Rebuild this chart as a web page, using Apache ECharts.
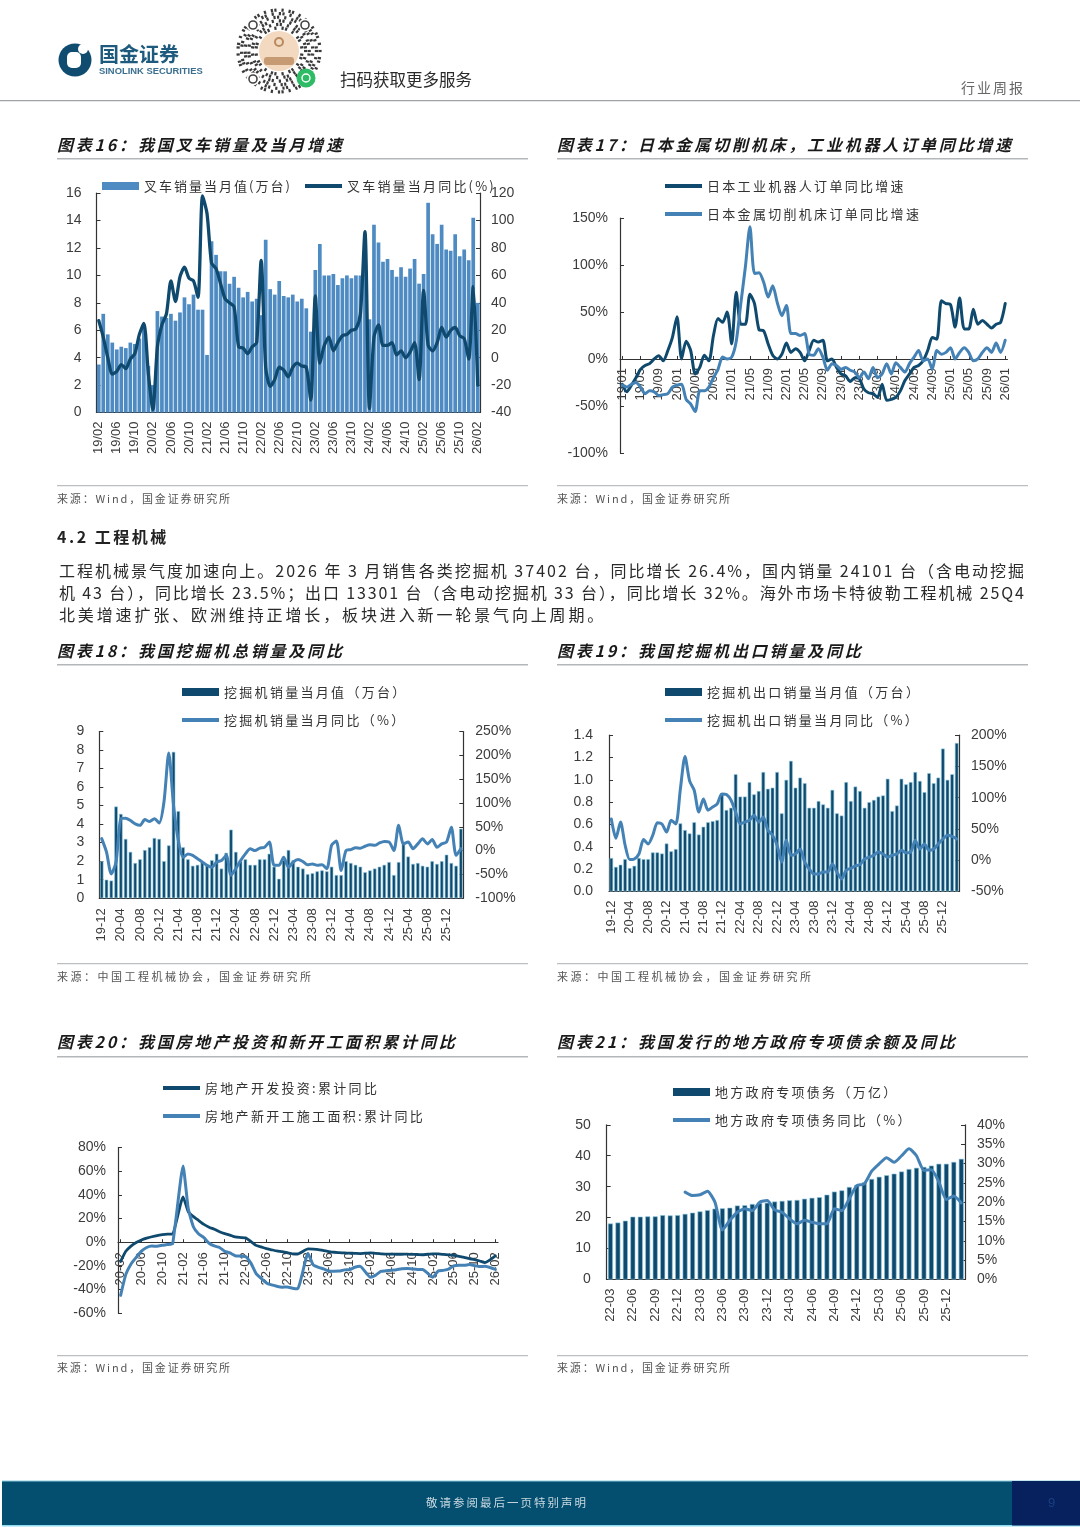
<!DOCTYPE html>
<html><head><meta charset="utf-8">
<style>html,body{margin:0;padding:0;background:#fff}#c{width:1080px;height:1527px}</style>
<script src="https://cdn.jsdelivr.net/npm/echarts@6/dist/echarts.min.js"></script>
</head><body><div id="c"></div>
<script>
// ---------- labels ----------
function months(y, m, n, sep){const o=[];for(let i=0;i<n;i++){const t=(y*12+m-1+i);const yy=Math.floor(t/12),mm=t%12+1;o.push(String(yy).padStart(2,'0')+sep+String(mm).padStart(2,'0'));}return o;}
const cat16 = months(19,2,85,'/');
const cat17 = months(19,1,85,'/');
const cat18 = months(19,12,76,'-');
const cat19 = months(19,12,76,'-');
const cat20 = months(20,2,73,'-');
const cat21 = months(22,3,48,'-');

// ---------- chart 16 ----------
const forkliftSales = [3.5,7.2,5.7,5.1,4.6,4.8,4.7,5.1,5.0,5.4,6.4,3.4,2.0,7.4,7.0,6.9,7.2,6.7,7.3,8.4,7.9,8.6,7.5,7.5,4.2,12.5,11.5,10.3,10.3,9.4,9.9,9.1,8.4,8.8,8.1,8.3,7.1,12.6,9.0,8.6,9.6,8.5,8.4,8.6,8.1,8.3,7.6,5.9,10.4,12.3,10.0,10.0,10.1,9.3,9.8,10.0,9.8,10.0,10.0,13.0,6.8,13.7,12.4,11.0,11.2,10.4,9.9,10.6,9.9,10.5,11.2,9.4,10.1,15.3,13.0,12.3,13.7,11.9,11.8,13.0,11.4,11.9,11.1,14.2,8.0];
const forkliftYoy = [27,15,0,-12,-10,-5,-8,-1,3,17,25,-12,-38,8,24,32,56,41,59,66,58,56,44,118,105,69,65,54,43,40,37,8,7,3,8,11,71,-7,-21,-16,-7,-9,-14,-7,-4,-6,-7,-31,45,-4,9,15,5,11,16,17,20,21,32,92,-37,15,24,9,9,11,2,5,0,4,11,-16,49,9,5,11,22,15,20,22,16,14,-1,52,-20];
// ---------- chart 17 ----------
const robotOrders = [-27,-35,-28,-20,-11,-7,-5,0,3.5,-2,9,23,45,0,19,9,-16,-9,4,-2,25,43,39,50,16,71,37,37,69,59,31,30,16,4,0,5,17,7,11,7,-2,9,20,18,20,-2,0,-9,-16,-18,-24,-20,-21,-32,-36,-37,-41,-27,-44,-43,-41,-34,-23,-16,-9,-7,-2,9,23,21,62,59,58,34,65,32,32,53,37,41,37,33,37,39,59];
const toolOrders = [-28,-30,-27,-25,-30,-37,-34,-35,-39,-38,-37,-30,-28,-27,-43,-48,-56,-34,-34,-30,-20,-11,2,0,2,19,59,98,141,91,92,82,66,78,60,46,57,27,27,25,27,5,4,11,2,-12,-5,-7,-11,-9,-12,-14,-20,-14,-21,-9,-20,-16,-5,-16,-4,-9,-14,-5,2,9,-2,0,-11,9,5,7,12,0,7,12,7,-2,0,7,12,7,17,7,20];
// ---------- chart 18 ----------
const excavatorSales = [2.0,1.0,0.95,4.95,4.55,3.2,2.5,1.9,2.1,2.6,2.75,3.25,3.2,2.0,2.85,7.9,4.7,2.75,2.1,1.75,1.8,1.95,1.8,2.05,2.4,1.6,2.45,3.7,2.5,2.0,2.1,1.8,1.8,2.1,2.1,2.4,1.7,1.05,2.05,2.6,2.05,1.7,1.6,1.3,1.35,1.45,1.5,1.45,1.7,1.25,1.25,2.0,1.9,1.8,1.7,1.4,1.5,1.6,1.7,1.8,1.95,1.25,1.95,3.0,2.25,1.85,1.9,1.75,1.7,2.0,1.85,2.0,2.35,1.9,1.75,3.75];
const excavatorYoy = [25,-3,-49,-24,67,68,63,56,53,65,61,67,58,102,205,95,21,-14,-7,-10,-17,-24,-31,-35,-24,-21,-10,-52,-38,-21,-7,4,0,5,7,18,-31,-31,-14,-35,-24,-19,-23,-30,-28,-31,-30,-38,11,20,-42,0,2,6,5,9,12,11,16,19,18,0,53,14,18,4,14,25,14,23,7,14,18,49,-10,4];
// ---------- chart 19 ----------
const exportSales = [0.30,0.22,0.24,0.29,0.21,0.23,0.30,0.29,0.29,0.35,0.35,0.34,0.43,0.36,0.38,0.61,0.55,0.52,0.62,0.51,0.58,0.62,0.63,0.64,0.88,0.73,0.75,1.05,0.85,0.85,0.98,0.87,0.90,1.07,0.92,0.93,1.07,0.70,1.0,1.17,0.93,1.02,0.97,0.75,0.75,0.81,0.78,0.75,0.91,0.70,0.68,0.98,0.81,0.94,0.90,0.75,0.80,0.82,0.85,0.86,1.01,0.72,0.77,1.01,0.96,0.98,1.07,0.99,0.89,1.06,0.97,1.02,1.28,1.0,1.05,1.33];
const exportYoy = [66,35,61,24,1,2,10,33,26,40,60,58,45,64,58,114,166,127,112,77,98,80,85,90,106,105,96,77,58,61,64,72,61,69,48,40,24,-3,32,8,10,18,-3,-14,-22,-22,-19,-19,-6,-19,-30,-16,-13,-9,-7,2,5,8,13,10,5,8,10,16,12,13,32,18,26,16,18,26,34,40,38,34];
// ---------- chart 20 ----------
const investYoy = [-16.3,-7.7,-3.3,-0.3,1.9,3.4,4.6,5.6,6.3,6.8,7.0,null,38.3,25.6,21.6,18.3,15,12.7,10.9,8.8,7.2,6,4.4,null,3.7,0.7,-2.7,-4,-5.4,-6.4,-7.4,-8,-8.8,-9.8,-10,null,-5.7,-5.8,-6.2,-7.2,-7.9,-8.5,-8.8,-9.1,-9.3,-9.4,-9.6,null,-9,-9.5,-9.8,-10.1,-10.1,-10.2,-10.2,-10.1,-10.3,-10.4,-10.6,null,-9.8,-9.9,-10.3,-10.7,-11.2,-12,-12.9,-13.9,-14.7,-15.9,-17.2,null,-11.5];
const startsYoy = [-44.9,-27.2,-18.4,-12.8,-7.6,-4.5,-3.3,-3.4,-2.6,-2,-1.2,null,64.3,28.2,12.8,6.9,3.8,-0.9,-3.2,-4.5,-7.7,-9.1,-11.4,null,-12.2,-17.5,-26.3,-30.6,-34.4,-36.1,-37.2,-38,-37.8,-38.9,-39.4,null,-9.4,-19.2,-21.2,-22.6,-24.3,-24.5,-24.4,-23.4,-23.2,-21.2,-20.4,null,-29.7,-27.8,-24.6,-24.2,-23.7,-23.2,-22.5,-22.2,-22.6,-23,-23,null,-29.6,-24.4,-23.8,-22.8,-20,-19.4,-19.5,-18.9,-19.8,-20.5,-20.4,null,-23];
// ---------- chart 21 ----------
const bondBalance = [18.1,18.4,19,20.3,20.3,20.4,20.4,20.8,20.7,20.8,21.2,21.6,22.0,22.4,22.9,23.0,23.2,23.9,24.0,24.4,24.7,24.8,25.2,25.4,25.6,25.7,26.1,26.4,26.6,27.4,28.4,28.8,29.9,30.5,31.4,32.5,33.2,33.7,34.2,34.9,35.7,36.1,36.4,36.8,37.4,37.4,38.0,39.0];
const bondYoy = [null,null,null,null,null,null,null,null,null,null,22.6,21.7,21.9,22.8,20,12.8,15.3,17.4,18.3,17.8,20,20.4,18,17.4,15.7,14.4,15.3,14.8,14.4,14.4,18.3,17.8,20.9,24.3,24.7,28,29.9,31.5,30.3,32,33.8,32,28.2,28.4,25.2,20.7,21.6,19.8];

// ---------- texts ----------
const titles = ['图表16：我国叉车销量及当月增速','图表17：日本金属切削机床，工业机器人订单同比增速','图表18：我国挖掘机总销量及同比','图表19：我国挖掘机出口销量及同比','图表20：我国房地产投资和新开工面积累计同比','图表21：我国发行的地方政府专项债余额及同比'];
const srcWind = '来源：Wind，国金证券研究所';
const srcCme = '来源：中国工程机械协会，国金证券研究所';
const section = '4.2 工程机械';
const body1 = '工程机械景气度加速向上。2026 年 3 月销售各类挖掘机 37402 台，同比增长 26.4%，国内销量 24101 台（含电动挖掘';
const body2 = '机 43 台），同比增长 23.5%；出口 13301 台（含电动挖掘机 33 台），同比增长 32%。海外市场卡特彼勒工程机械 25Q4';
const body3 = '北美增速扩张、欧洲维持正增长，板块进入新一轮景气向上周期。';

// letter-spacing per text string (canvas property applied while the string is drawn)
const LS = {};
const _ft = CanvasRenderingContext2D.prototype.fillText;
CanvasRenderingContext2D.prototype.fillText = function(t,x,y,m){
  const s = LS[t];
  if(s){ this.letterSpacing = s+'px'; _ft.call(this,t,x,y); this.letterSpacing='0px'; }
  else if(m===undefined) _ft.call(this,t,x,y); else _ft.call(this,t,x,y,m);
};

const CJK = '"Noto Sans CJK SC","Liberation Sans",sans-serif';
const ARIAL = '"Liberation Sans",Arial,sans-serif';
const DARK = '#0f4a6e', MID = '#4482b6', BAR16 = '#4f8bc3', AXIS = '#333', LBL = '#3c3c3c';

const names = {
  s16a:'叉车销量当月值(万台)', s16b:'叉车销量当月同比(%)',
  s17a:'日本工业机器人订单同比增速', s17b:'日本金属切削机床订单同比增速',
  s18a:'挖掘机销量当月值（万台）', s18b:'挖掘机销量当月同比（%）',
  s19a:'挖掘机出口销量当月值（万台）', s19b:'挖掘机出口销量当月同比（%）',
  s20a:'房地产开发投资:累计同比', s20b:'房地产新开工施工面积:累计同比',
  s21a:'地方政府专项债务（万亿）', s21b:'地方政府专项债务同比（%）'
};
Object.values(names).forEach(n=>LS[n]=2.3);
LS[names.s16a]=2.0; LS[names.s16b]=2.2;
titles.forEach(t=>LS[t]=2.8);
LS[srcWind]=1.85; LS[srcCme]=2.5; LS[section]=2.5;
LS[body1]=2.02; LS[body2]=1.88; LS[body3]=2.87;
LS['行业周报']=2; LS['敬请参阅最后一页特别声明']=2;

// ---------- layout boxes ----------
const grids = [
  {left:96.5, top:193.2, width:383.5, height:219.3},
  {left:620, top:218.2, width:387.5, height:234.6},
  {left:99.3, top:731.5, width:364, height:166.7},
  {left:609, top:735.2, width:350, height:156.3},
  {left:118, top:1147.5, width:380, height:165.7},
  {left:606.7, top:1124.8, width:358.3, height:154.7}
];

function xAx(gi,data,step,margin,offset){
  return {type:'category',gridIndex:gi,data,boundaryGap:true,position:'bottom',offset:offset||0,
    axisLine:{onZero:false,lineStyle:{color:AXIS,width:1.2}},
    axisTick:{show:true,inside:true,length:3,interval:step-1,alignWithLabel:true,lineStyle:{color:AXIS}},
    axisLabel:{interval:step-1,rotate:90,margin,fontFamily:ARIAL,fontSize:13,color:LBL,hideOverlap:false},
    splitLine:{show:false}};
}
function yAx(gi,min,max,interval,margin,o){
  o=o||{};
  return {type:'value',gridIndex:gi,min,max,interval,position:o.right?'right':'left',
    axisLine:{show:true,onZero:false,lineStyle:{color:AXIS,width:1.2}},
    axisTick:{show:true,inside:true,length:4,lineStyle:{color:AXIS}},
    axisLabel:{margin,fontFamily:ARIAL,fontSize:14,color:LBL,formatter:o.fmt},
    splitLine:{show:false}};
}
function bar(name,data,xi,yi,color,w,halo){
  return {type:'bar',name,data,xAxisIndex:xi,yAxisIndex:yi,barWidth:w,
    itemStyle:halo?{color,borderColor:'#8cc6de',borderWidth:0.6}:{color},silent:true,animation:false,z:2};
}
function line(name,data,xi,yi,color,w,smooth,conn){
  return {type:'line',name,data,xAxisIndex:xi,yAxisIndex:yi,showSymbol:false,symbol:'none',smooth,connectNulls:!!conn,
    lineStyle:{color,width:w,cap:'round',join:'round'},itemStyle:{color},silent:true,animation:false,z:3};
}
function leg(name,x,y,h,color){
  return {show:true,data:[{name,icon:'rect',itemStyle:{color,borderWidth:0},lineStyle:{opacity:0}}],orient:'horizontal',left:x,top:y-9,
    padding:0,itemWidth:37,itemHeight:h,itemGap:4,selectedMode:false,
    textStyle:{fontFamily:CJK,fontSize:13,color:'#333',padding:[0,0,0,0],lineHeight:18}};
}
const pct='{value}%';

// ---------- decoration ----------
const g = [];
const T=(text,x,y,size,color,extra)=>g.push({type:'text',x,y,silent:true,style:Object.assign({text,fontFamily:CJK,fontSize:size,fill:color,textVerticalAlign:'middle',verticalAlign:'middle',align:'left'},extra||{})});
const R=(x,y,w,h,c)=>g.push({type:'rect',silent:true,shape:{x,y,width:w,height:h},style:{fill:c}});
const C=(x,y,r,c,st)=>g.push({type:'circle',silent:true,shape:{cx:x,cy:y,r},style:st||{fill:c}});

// header
R(0,100,1080,1.3,'#9ea3a6');
C(75,60,16.5,'#0f4c70'); 
g.push({type:'rect',silent:true,shape:{x:67,y:52,width:14,height:16,r:5},style:{fill:'#fff'}});
C(83,49,5,'#fff');
T('国金证券',99,54.5,20,'#1d5a7d',{fontWeight:'bold'});
T('SINOLINK SECURITIES',99,71.5,9.4,'#3b6f90',{fontFamily:ARIAL,fontWeight:'bold'});
// code-like badge next to the logo
(function(){
  const cx=279,cy=51;
  for(let r=23;r<=42;r+=3.6){
    const n=Math.round(2*Math.PI*r/3.6);
    for(let i=0;i<n;i++){
      if(((i*7+Math.round(r)*11)%5)<3){
        const a=2*Math.PI*i/n;
        g.push({type:'rect',silent:true,x:cx+r*Math.cos(a),y:cy+r*Math.sin(a),rotation:-a,shape:{x:-1.6,y:-1.1,width:3.2,height:2.2},style:{fill:'#3a3a3a'}});
      }
    }
  }
  [[253,25],[305,25],[253,79]].forEach(p=>{C(p[0],p[1],6.5,'#fff');C(p[0],p[1],4,'',{fill:'#fff',stroke:'#444',lineWidth:1.6});});
  C(cx,cy,20,'#f3d9c0');
  g.push({type:'rect',silent:true,shape:{x:cx-15,y:cy+6,width:30,height:8,r:3},style:{fill:'#c69a72'}});
  C(cx,cy-9,4,'',{fill:'#f3d9c0',stroke:'#b98a5f',lineWidth:2});
  C(306,78,9.5,'#2dbb65');
  C(306,78,4,'',{fill:'#2dbb65',stroke:'#fff',lineWidth:1.4});
})();
T('扫码获取更多服务',340,80,16.5,'#2a2a2a');
T('行业周报',961,88,14,'#666');

// titles, rules, sources
const tx=[57,557];
[[145,158],[651,664],[1042,1056]].forEach((p,i)=>{
  [0,1].forEach(j=>{
    T(titles[i*2+j],tx[j],p[0],16,'#1a1a1a',{fontWeight:'bold',fontStyle:'italic'});
    R(tx[j],p[1],471,1.6,'#b4b7b9');
  });
});
[[485,499,srcWind],[963,977,srcCme],[1355,1368,srcWind]].forEach(p=>{
  [0,1].forEach(j=>{
    R(tx[j],p[0],471,1.3,'#bcbfc1');
    T(p[2],tx[j],p[1],11,'#555');
  });
});
T(section,57,537,16,'#222',{fontWeight:'bold'});
T(body1,59,571,16,'#2a2a2a');
T(body2,59,593,16,'#2a2a2a');
T(body3,59,615,16,'#2a2a2a');

// footer
R(2,1481,1078,45,'#044f70');
R(2,1480.5,1078,1,'#8ccbe0');
R(2,1525,1078,1.5,'#8fdcf0');
R(1012,1481,68,44.5,'#06215e');
T('敬请参阅最后一页特别声明',426,1503,11.5,'#c9d8df');
T('9',1048,1503,13,'#1b3f80',{fontFamily:ARIAL});

// ---------- option ----------
const option = {
  animation:false, backgroundColor:'#fff',
  grid: grids.map(b=>Object.assign({containLabel:false},b)),
  xAxis:[
    xAx(0,cat16,4,9), xAx(1,cat17,4,9,-93.84), xAx(2,cat18,4,10), xAx(3,cat19,4,9), xAx(4,cat20,4,10,-71), xAx(5,cat21,3,9)
  ],
  yAxis:[
    yAx(0,0,16,2,15), yAx(0,-40,120,20,11,{right:true}),
    yAx(1,-100,150,50,12,{fmt:pct}),
    yAx(2,0,9,1,15), yAx(2,-100,250,50,12,{right:true,fmt:pct}),
    yAx(3,0,1.4,0.2,16,{fmt:v=>v.toFixed(1)}), yAx(3,-50,200,50,12,{right:true,fmt:pct}),
    yAx(4,-60,80,20,12,{fmt:pct}),
    yAx(5,0,50,10,16), yAx(5,0,40,5,12,{right:true,fmt:pct})
  ],
  series:[
    bar(names.s16a,forkliftSales,0,0,BAR16,'82%'), line(names.s16b,forkliftYoy,0,1,DARK,3.3,0.25),
    line(names.s17a,robotOrders,1,2,DARK,3,0.25), line(names.s17b,toolOrders,1,2,MID,3,0.25),
    bar(names.s18a,excavatorSales,2,3,DARK,'72%',true), line(names.s18b,excavatorYoy,2,4,MID,3,0.25),
    bar(names.s19a,exportSales,3,5,DARK,'78%',true), line(names.s19b,exportYoy,3,6,MID,3,0.25),
    line(names.s20a,investYoy,4,7,DARK,2.8,0.15,true), line(names.s20b,startsYoy,4,7,MID,3,0.15,true),
    bar(names.s21a,bondBalance,5,8,DARK,'66%',true), line(names.s21b,bondYoy,5,9,MID,3,0.2)
  ],
  legend:[
    leg(names.s16a,102,186,8,BAR16), leg(names.s16b,305,186,4,DARK),
    leg(names.s17a,665,186,4,DARK), leg(names.s17b,665,214,4,MID),
    leg(names.s18a,182,692,8,DARK), leg(names.s18b,182,720,4,MID),
    leg(names.s19a,665,692,8,DARK), leg(names.s19b,665,720,4,MID),
    leg(names.s20a,163,1088,4,DARK), leg(names.s20b,163,1116,4,MID),
    leg(names.s21a,673,1092,8,DARK), leg(names.s21b,673,1120,4,MID)
  ],
  graphic:{elements:g}
};
const chart = echarts.init(document.getElementById('c'),null,{renderer:'canvas',width:1080,height:1527});
chart.setOption(option);
</script></body></html>
